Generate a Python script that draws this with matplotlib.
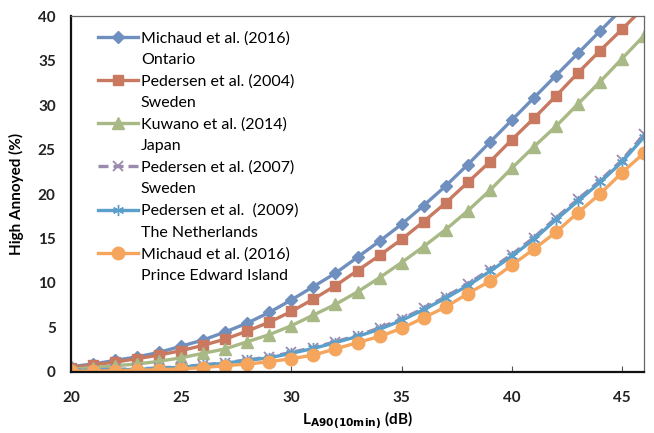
import matplotlib.pyplot as plt
from matplotlib.lines import Line2D
from matplotlib.ticker import MultipleLocator

plt.rcParams['font.family'] = ['Lato', 'DejaVu Sans']

# Sound level L_A90(10min), dB
levels = list(range(20, 47))

# Percentage highly annoyed for each study
michaud_ontario = [0.6, 0.9, 1.3, 1.7, 2.2, 2.9, 3.6, 4.5, 5.5, 6.7, 8.1, 9.6, 11.1, 12.9,
                   14.7, 16.6, 18.7, 20.9, 23.3, 25.8, 28.3, 30.8, 33.3, 35.8, 38.3, 40.8, 43.3]
pedersen_2004 = [0.5, 0.8, 1.1, 1.5, 1.9, 2.4, 3.0, 3.7, 4.6, 5.6, 6.8, 8.2, 9.7, 11.4,
                 13.1, 14.9, 16.9, 19.0, 21.3, 23.6, 26.1, 28.5, 31.0, 33.6, 36.1, 38.5, 41.0]
kuwano_2014 = [0.3, 0.5, 0.7, 0.9, 1.2, 1.6, 2.1, 2.6, 3.4, 4.2, 5.2, 6.4, 7.6, 9.0,
               10.6, 12.3, 14.1, 16.0, 18.1, 20.4, 22.9, 25.3, 27.6, 30.1, 32.6, 35.2, 37.8]
pedersen_2007 = [0.2, 0.25, 0.3, 0.35, 0.45, 0.6, 0.8, 1.05, 1.35, 1.7, 2.2, 2.75, 3.4, 4.1,
                 4.95, 5.95, 7.15, 8.45, 9.9, 11.5, 13.2, 15.1, 17.3, 19.4, 21.5, 23.8, 26.7]
pedersen_2009 = [0.15, 0.2, 0.25, 0.3, 0.4, 0.55, 0.75, 1.0, 1.3, 1.6, 2.1, 2.65, 3.3, 4.0,
                 4.8, 5.8, 7.0, 8.3, 9.7, 11.3, 13.0, 14.9, 17.1, 19.2, 21.3, 23.6, 26.4]
michaud_pei = [0.1, 0.1, 0.15, 0.2, 0.25, 0.35, 0.5, 0.7, 0.9, 1.15, 1.5, 1.9, 2.6, 3.3,
               4.0, 4.9, 6.1, 7.3, 8.8, 10.2, 12.0, 13.8, 15.7, 17.9, 20.0, 22.4, 24.6]

studies = ['Michaud et al. (2016)', 'Pedersen et al. (2004)', 'Kuwano et al. (2014)',
           'Pedersen et al. (2007)', 'Pedersen et al.  (2009)', 'Michaud et al. (2016)']
regions = ['Ontario', 'Sweden', 'Japan', 'Sweden', 'The Netherlands',
           'Prince Edward Island']

fig = plt.figure(figsize=(6.54, 4.33), dpi=100)
ax = fig.add_axes([0.1086, 0.1409, 0.8761, 0.8221])

lw = 2.4
lines = [
    ax.plot(levels, michaud_ontario, color='#6F8FBF', lw=lw, marker='D', ms=6.5)[0],
    ax.plot(levels, pedersen_2004, color='#C8795F', lw=lw, marker='s', ms=7.5)[0],
    ax.plot(levels, kuwano_2014, color='#A8B986', lw=lw, marker='^', ms=8)[0],
    ax.plot(levels, pedersen_2007, color='#9A8AAE', lw=lw, ls=(0, (3, 1.5)),
            marker='x', ms=7, mew=1.3)[0],
    ax.plot(levels, pedersen_2009, color='#5B9FCB', lw=lw, marker=(6, 2, 0), ms=8,
            mew=1.0)[0],
    ax.plot(levels, michaud_pei, color='#F5A55C', lw=lw, marker='o', ms=9)[0],
]

ax.set_xlim(20, 46)
ax.set_ylim(0, 40)
ax.xaxis.set_major_locator(MultipleLocator(5))
ax.yaxis.set_major_locator(MultipleLocator(5))

ax.tick_params(axis='x', direction='in', length=4, width=0.8, color='#555555',
               labelsize=11, pad=14)
ax.tick_params(axis='y', length=0, labelsize=11, pad=11)
for lab in ax.get_xticklabels() + ax.get_yticklabels():
    lab.set_fontweight('bold')
    lab.set_color('#222222')

for side in ('left', 'bottom'):
    ax.spines[side].set_linewidth(1.6)
    ax.spines[side].set_color('#111111')
for side in ('top', 'right'):
    ax.spines[side].set_linewidth(0.9)
    ax.spines[side].set_color('#666666')

ax.set_ylabel('High Annoyed (%)', fontsize=11, fontweight='bold', labelpad=10)
ax.set_xlabel(r'L$_{\mathbf{A90(10min)}}$ (dB)', fontsize=11, fontweight='bold',
              labelpad=3)

# Legend: the series handle sits beside the study name, the region goes on the row below
blank = Line2D([], [], linestyle='none', marker='none')
handles, texts = [], []
for line, study, region in zip(lines, studies, regions):
    handles += [line, blank]
    texts += [study, region]

ax.legend(handles, texts, loc='upper left', bbox_to_anchor=(0.03, 0.985),
          frameon=False, fontsize=11.5, handlelength=2.5, handletextpad=0.2,
          labelspacing=0.46, borderaxespad=0.2)

fig.savefig('out.png', dpi=100)
